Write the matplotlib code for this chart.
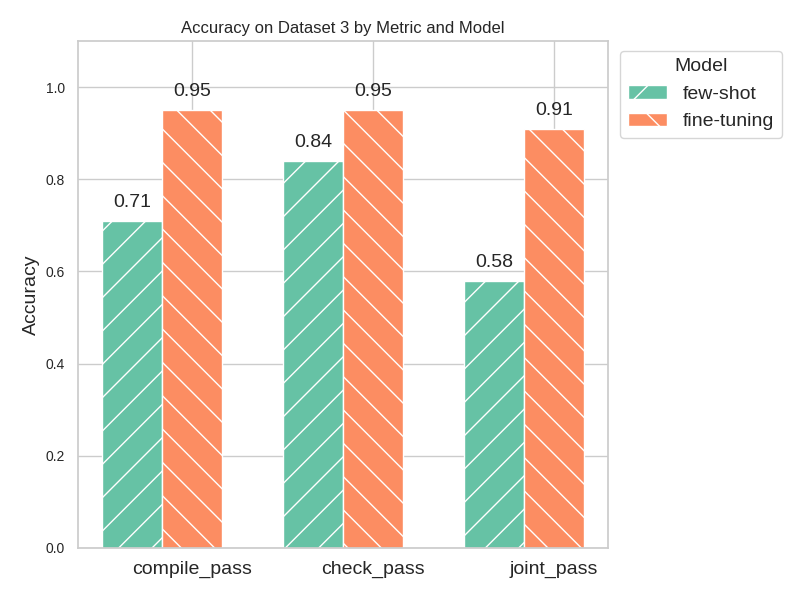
import matplotlib
matplotlib.use("Agg")
import matplotlib.pyplot as plt
import numpy as np
import seaborn as sns

sns.set_theme(style="whitegrid")
plt.rcParams['font.family'] = ['Liberation Sans', 'DejaVu Sans']
plt.rcParams['hatch.color'] = 'white'
plt.rcParams['hatch.linewidth'] = 1.0

metrics = ["compile_pass", "check_pass", "joint_pass"]
models = ["few-shot", "fine-tuning"]
few_shot = [0.71, 0.84, 0.58]
fine_tuning = [0.95, 0.95, 0.91]

colors = ["#66c2a5", "#fc8d62"]
hatches = ["/", "\\"]
w = 0.33

fig = plt.figure(figsize=(8, 6), dpi=100)
ax = fig.add_axes([0.0975, 0.0867, 0.6625, 0.845])
x = np.arange(len(metrics))
for vals, off, c, h, lab in zip([few_shot, fine_tuning], [-w/2, w/2], colors, hatches, models):
    bars = ax.bar(x + off, vals, w, color=c, hatch=h, edgecolor="white", linewidth=1, label=lab)
    for b, v in zip(bars, vals):
        ax.annotate(f"{v:.2f}", (b.get_x() + b.get_width()/2, v), xytext=(0, 7),
                    textcoords="offset points", ha="center", va="bottom", fontsize=14, color="#262626")

ax.set_ylim(0, 1.1)
ax.set_xticks(x + w/2)
ax.set_xticklabels(metrics, fontsize=14)
ax.tick_params(axis='y', labelsize=10)
ax.set_ylabel("Accuracy", fontsize=14)
ax.set_title("Accuracy on Dataset 3 by Metric and Model", fontsize=12)
ax.legend(title="Model", loc="upper left", bbox_to_anchor=(1.005, 1), fontsize=14, title_fontsize=14)
fig.savefig("out.png", dpi=100)
